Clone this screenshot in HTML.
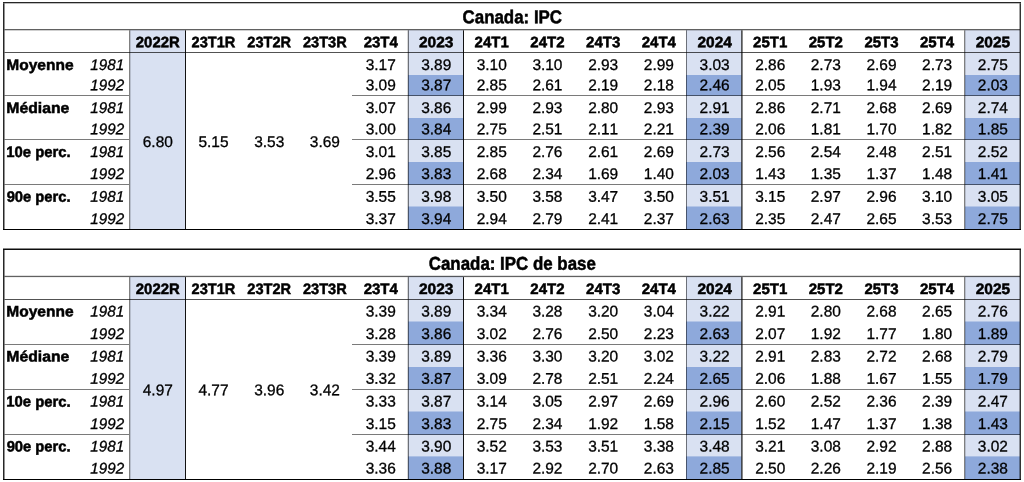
<!DOCTYPE html>
<html><head><meta charset="utf-8"><style>
html,body{margin:0;padding:0;background:#fff;width:1024px;height:482px;overflow:hidden}
svg{display:block;will-change:transform}
text{font-family:"Liberation Sans",sans-serif;fill:#000;font-kerning:none;text-rendering:geometricPrecision}
.r{stroke:#000;stroke-width:0.3px}
g.pr,g.pb,g.pi{fill:#000;stroke:#000}
.b{font-weight:bold;stroke:#000;stroke-width:0.5px}
.i{font-style:italic;stroke:#000;stroke-width:0.3px}
</style></head><body>
<svg width="1024" height="482" viewBox="0 0 1024 482">
<defs></defs>
<rect x="0" y="0" width="1024" height="482" fill="#fff"/>
<rect x="130" y="30" width="55" height="199" fill="#D9E1F2"/>
<rect x="408" y="30" width="55" height="199" fill="#D9E1F2"/>
<rect x="408" y="75" width="55" height="21" fill="#8EA9DB"/>
<rect x="408" y="118" width="55" height="22" fill="#8EA9DB"/>
<rect x="408" y="162" width="55" height="23" fill="#8EA9DB"/>
<rect x="408" y="206.5" width="55" height="23.5" fill="#8EA9DB"/>
<rect x="686" y="30" width="55.5" height="199" fill="#D9E1F2"/>
<rect x="686" y="75" width="55.5" height="21" fill="#8EA9DB"/>
<rect x="686" y="118" width="55.5" height="22" fill="#8EA9DB"/>
<rect x="686" y="162" width="55.5" height="23" fill="#8EA9DB"/>
<rect x="686" y="206.5" width="55.5" height="23.5" fill="#8EA9DB"/>
<rect x="965" y="30" width="55" height="199" fill="#D9E1F2"/>
<rect x="965" y="75" width="55" height="21" fill="#8EA9DB"/>
<rect x="965" y="118" width="55" height="22" fill="#8EA9DB"/>
<rect x="965" y="162" width="55" height="23" fill="#8EA9DB"/>
<rect x="965" y="206.5" width="55" height="23.5" fill="#8EA9DB"/>
<rect x="3" y="2" width="1018" height="1.3" fill="#000" fill-opacity="0.85"/>
<rect x="4.5" y="29" width="1015.5" height="1.3" fill="#000" fill-opacity="0.62"/>
<rect x="4.5" y="52" width="1015.5" height="1" fill="#000" fill-opacity="0.68"/>
<rect x="4.5" y="95" width="124.5" height="1" fill="#000" fill-opacity="0.52"/>
<rect x="352" y="95" width="668" height="1" fill="#000" fill-opacity="0.52"/>
<rect x="4.5" y="139" width="124.5" height="1" fill="#000" fill-opacity="0.52"/>
<rect x="352" y="139" width="668" height="1" fill="#000" fill-opacity="0.52"/>
<rect x="4.5" y="184" width="124.5" height="1" fill="#000" fill-opacity="0.52"/>
<rect x="352" y="184" width="668" height="1" fill="#000" fill-opacity="0.52"/>
<rect x="3" y="229" width="1018" height="1" fill="#000" fill-opacity="1.0"/>
<rect x="3" y="3.3" width="1.5" height="225.7" fill="#000" fill-opacity="0.85"/>
<rect x="1019.55" y="3.3" width="1.45" height="225.7" fill="#000" fill-opacity="0.8"/>
<rect x="129" y="30.3" width="1.3" height="198.7" fill="#000" fill-opacity="0.5"/>
<rect x="407.7" y="30.3" width="1.3" height="198.7" fill="#000" fill-opacity="0.5"/>
<rect x="686" y="30.3" width="1" height="198.7" fill="#000" fill-opacity="0.5"/>
<rect x="964" y="30.3" width="1.3" height="198.7" fill="#000" fill-opacity="0.5"/>
<rect x="185" y="30.3" width="1" height="198.7" fill="#000" fill-opacity="0.93"/>
<rect x="463" y="30.3" width="1" height="198.7" fill="#000" fill-opacity="0.93"/>
<rect x="741.3" y="30.3" width="1.2" height="198.7" fill="#000" fill-opacity="0.93"/>
<text class="b" transform="translate(512.30 23.30) scale(0.9120 1) rotate(0.05)" font-size="18.532" text-anchor="middle">Canada: IPC</text>
<text class="b" transform="translate(157.80 47.20) scale(0.9868 1) rotate(0.05)" font-size="15.113" text-anchor="middle">2022R</text>
<text class="b" transform="translate(213.47 47.20) scale(0.9643 1) rotate(0.05)" font-size="15.113" text-anchor="middle">23T1R</text>
<text class="b" transform="translate(269.23 47.20) scale(0.9643 1) rotate(0.05)" font-size="15.113" text-anchor="middle">23T2R</text>
<text class="b" transform="translate(324.88 47.20) scale(0.9643 1) rotate(0.05)" font-size="15.113" text-anchor="middle">23T3R</text>
<text class="b" transform="translate(380.73 47.20) scale(0.9927 1) rotate(0.05)" font-size="15.113" text-anchor="middle">23T4</text>
<text class="b" transform="translate(436.20 47.20) scale(1.0231 1) rotate(0.05)" font-size="15.113" text-anchor="middle">2023</text>
<text class="b" transform="translate(491.68 47.20) scale(0.9927 1) rotate(0.05)" font-size="15.113" text-anchor="middle">24T1</text>
<text class="b" transform="translate(547.42 47.20) scale(0.9927 1) rotate(0.05)" font-size="15.113" text-anchor="middle">24T2</text>
<text class="b" transform="translate(603.17 47.20) scale(0.9927 1) rotate(0.05)" font-size="15.113" text-anchor="middle">24T3</text>
<text class="b" transform="translate(658.83 47.20) scale(0.9927 1) rotate(0.05)" font-size="15.113" text-anchor="middle">24T4</text>
<text class="b" transform="translate(714.65 47.20) scale(1.0231 1) rotate(0.05)" font-size="15.113" text-anchor="middle">2024</text>
<text class="b" transform="translate(770.20 47.20) scale(0.9927 1) rotate(0.05)" font-size="15.113" text-anchor="middle">25T1</text>
<text class="b" transform="translate(825.80 47.20) scale(0.9927 1) rotate(0.05)" font-size="15.113" text-anchor="middle">25T2</text>
<text class="b" transform="translate(881.47 47.20) scale(0.9927 1) rotate(0.05)" font-size="15.113" text-anchor="middle">25T3</text>
<text class="b" transform="translate(937.12 47.20) scale(0.9927 1) rotate(0.05)" font-size="15.113" text-anchor="middle">25T4</text>
<text class="b" transform="translate(992.90 47.20) scale(1.0231 1) rotate(0.05)" font-size="15.113" text-anchor="middle">2025</text>
<text class="b" transform="translate(6.32 69.89) scale(1.0268 1) rotate(0.05)" font-size="15.116" text-anchor="start">Moyenne</text>
<text class="i" transform="translate(90.26 69.89) scale(0.9892 1) rotate(0.05)" font-size="15.395" text-anchor="start">1981</text>
<text class="i" transform="translate(90.26 90.19) scale(0.9892 1) rotate(0.05)" font-size="15.395" text-anchor="start">1992</text>
<text class="b" transform="translate(6.31 113.00) scale(1.0424 1) rotate(0.05)" font-size="15.116" text-anchor="start">Médiane</text>
<text class="i" transform="translate(90.26 113.00) scale(0.9892 1) rotate(0.05)" font-size="15.395" text-anchor="start">1981</text>
<text class="i" transform="translate(90.26 134.20) scale(0.9892 1) rotate(0.05)" font-size="15.395" text-anchor="start">1992</text>
<text class="b" transform="translate(6.31 156.93) scale(0.9834 1) rotate(0.05)" font-size="15.116" text-anchor="start">10e perc.</text>
<text class="i" transform="translate(90.26 156.93) scale(0.9892 1) rotate(0.05)" font-size="15.395" text-anchor="start">1981</text>
<text class="i" transform="translate(90.26 179.00) scale(0.9892 1) rotate(0.05)" font-size="15.395" text-anchor="start">1992</text>
<text class="b" transform="translate(6.63 201.80) scale(0.9768 1) rotate(0.05)" font-size="15.116" text-anchor="start">90e perc.</text>
<text class="i" transform="translate(90.26 201.80) scale(0.9892 1) rotate(0.05)" font-size="15.395" text-anchor="start">1981</text>
<text class="i" transform="translate(90.26 223.89) scale(0.9892 1) rotate(0.05)" font-size="15.395" text-anchor="start">1992</text>
<text class="r" transform="translate(157.80 147.00) scale(0.9961 1) rotate(0.05)" font-size="15.537" text-anchor="middle">6.80</text>
<text class="r" transform="translate(213.47 147.00) scale(0.9961 1) rotate(0.05)" font-size="15.537" text-anchor="middle">5.15</text>
<text class="r" transform="translate(269.23 147.00) scale(0.9961 1) rotate(0.05)" font-size="15.537" text-anchor="middle">3.53</text>
<text class="r" transform="translate(324.88 147.00) scale(0.9961 1) rotate(0.05)" font-size="15.537" text-anchor="middle">3.69</text>
<text class="r" transform="translate(380.73 69.89) scale(0.9961 1) rotate(0.05)" font-size="15.537" text-anchor="middle">3.17</text>
<text class="r" transform="translate(436.20 69.89) scale(0.9961 1) rotate(0.05)" font-size="15.537" text-anchor="middle">3.89</text>
<text class="r" transform="translate(491.68 69.89) scale(0.9961 1) rotate(0.05)" font-size="15.537" text-anchor="middle">3.10</text>
<text class="r" transform="translate(547.42 69.89) scale(0.9961 1) rotate(0.05)" font-size="15.537" text-anchor="middle">3.10</text>
<text class="r" transform="translate(603.17 69.89) scale(0.9961 1) rotate(0.05)" font-size="15.537" text-anchor="middle">2.93</text>
<text class="r" transform="translate(658.83 69.89) scale(0.9961 1) rotate(0.05)" font-size="15.537" text-anchor="middle">2.99</text>
<text class="r" transform="translate(714.65 69.89) scale(0.9961 1) rotate(0.05)" font-size="15.537" text-anchor="middle">3.03</text>
<text class="r" transform="translate(770.20 69.89) scale(0.9961 1) rotate(0.05)" font-size="15.537" text-anchor="middle">2.86</text>
<text class="r" transform="translate(825.80 69.89) scale(0.9961 1) rotate(0.05)" font-size="15.537" text-anchor="middle">2.73</text>
<text class="r" transform="translate(881.47 69.89) scale(0.9961 1) rotate(0.05)" font-size="15.537" text-anchor="middle">2.69</text>
<text class="r" transform="translate(937.12 69.89) scale(0.9961 1) rotate(0.05)" font-size="15.537" text-anchor="middle">2.73</text>
<text class="r" transform="translate(992.90 69.89) scale(0.9961 1) rotate(0.05)" font-size="15.537" text-anchor="middle">2.75</text>
<text class="r" transform="translate(380.73 90.19) scale(0.9961 1) rotate(0.05)" font-size="15.537" text-anchor="middle">3.09</text>
<text class="r" transform="translate(436.20 90.19) scale(0.9961 1) rotate(0.05)" font-size="15.537" text-anchor="middle">3.87</text>
<text class="r" transform="translate(491.68 90.19) scale(0.9961 1) rotate(0.05)" font-size="15.537" text-anchor="middle">2.85</text>
<text class="r" transform="translate(547.42 90.19) scale(0.9961 1) rotate(0.05)" font-size="15.537" text-anchor="middle">2.61</text>
<text class="r" transform="translate(603.17 90.19) scale(0.9961 1) rotate(0.05)" font-size="15.537" text-anchor="middle">2.19</text>
<text class="r" transform="translate(658.83 90.19) scale(0.9961 1) rotate(0.05)" font-size="15.537" text-anchor="middle">2.18</text>
<text class="r" transform="translate(714.65 90.19) scale(0.9961 1) rotate(0.05)" font-size="15.537" text-anchor="middle">2.46</text>
<text class="r" transform="translate(770.20 90.19) scale(0.9961 1) rotate(0.05)" font-size="15.537" text-anchor="middle">2.05</text>
<text class="r" transform="translate(825.80 90.19) scale(0.9961 1) rotate(0.05)" font-size="15.537" text-anchor="middle">1.93</text>
<text class="r" transform="translate(881.47 90.19) scale(0.9961 1) rotate(0.05)" font-size="15.537" text-anchor="middle">1.94</text>
<text class="r" transform="translate(937.12 90.19) scale(0.9961 1) rotate(0.05)" font-size="15.537" text-anchor="middle">2.19</text>
<text class="r" transform="translate(992.90 90.19) scale(0.9961 1) rotate(0.05)" font-size="15.537" text-anchor="middle">2.03</text>
<text class="r" transform="translate(380.73 113.00) scale(0.9961 1) rotate(0.05)" font-size="15.537" text-anchor="middle">3.07</text>
<text class="r" transform="translate(436.20 113.00) scale(0.9961 1) rotate(0.05)" font-size="15.537" text-anchor="middle">3.86</text>
<text class="r" transform="translate(491.68 113.00) scale(0.9961 1) rotate(0.05)" font-size="15.537" text-anchor="middle">2.99</text>
<text class="r" transform="translate(547.42 113.00) scale(0.9961 1) rotate(0.05)" font-size="15.537" text-anchor="middle">2.93</text>
<text class="r" transform="translate(603.17 113.00) scale(0.9961 1) rotate(0.05)" font-size="15.537" text-anchor="middle">2.80</text>
<text class="r" transform="translate(658.83 113.00) scale(0.9961 1) rotate(0.05)" font-size="15.537" text-anchor="middle">2.93</text>
<text class="r" transform="translate(714.65 113.00) scale(0.9961 1) rotate(0.05)" font-size="15.537" text-anchor="middle">2.91</text>
<text class="r" transform="translate(770.20 113.00) scale(0.9961 1) rotate(0.05)" font-size="15.537" text-anchor="middle">2.86</text>
<text class="r" transform="translate(825.80 113.00) scale(0.9961 1) rotate(0.05)" font-size="15.537" text-anchor="middle">2.71</text>
<text class="r" transform="translate(881.47 113.00) scale(0.9961 1) rotate(0.05)" font-size="15.537" text-anchor="middle">2.68</text>
<text class="r" transform="translate(937.12 113.00) scale(0.9961 1) rotate(0.05)" font-size="15.537" text-anchor="middle">2.69</text>
<text class="r" transform="translate(992.90 113.00) scale(0.9961 1) rotate(0.05)" font-size="15.537" text-anchor="middle">2.74</text>
<text class="r" transform="translate(380.73 134.20) scale(0.9961 1) rotate(0.05)" font-size="15.537" text-anchor="middle">3.00</text>
<text class="r" transform="translate(436.20 134.20) scale(0.9961 1) rotate(0.05)" font-size="15.537" text-anchor="middle">3.84</text>
<text class="r" transform="translate(491.68 134.20) scale(0.9961 1) rotate(0.05)" font-size="15.537" text-anchor="middle">2.75</text>
<text class="r" transform="translate(547.42 134.20) scale(0.9961 1) rotate(0.05)" font-size="15.537" text-anchor="middle">2.51</text>
<text class="r" transform="translate(603.17 134.20) scale(0.9961 1) rotate(0.05)" font-size="15.537" text-anchor="middle">2.11</text>
<text class="r" transform="translate(658.83 134.20) scale(0.9961 1) rotate(0.05)" font-size="15.537" text-anchor="middle">2.21</text>
<text class="r" transform="translate(714.65 134.20) scale(0.9961 1) rotate(0.05)" font-size="15.537" text-anchor="middle">2.39</text>
<text class="r" transform="translate(770.20 134.20) scale(0.9961 1) rotate(0.05)" font-size="15.537" text-anchor="middle">2.06</text>
<text class="r" transform="translate(825.80 134.20) scale(0.9961 1) rotate(0.05)" font-size="15.537" text-anchor="middle">1.81</text>
<text class="r" transform="translate(881.47 134.20) scale(0.9961 1) rotate(0.05)" font-size="15.537" text-anchor="middle">1.70</text>
<text class="r" transform="translate(937.12 134.20) scale(0.9961 1) rotate(0.05)" font-size="15.537" text-anchor="middle">1.82</text>
<text class="r" transform="translate(992.90 134.20) scale(0.9961 1) rotate(0.05)" font-size="15.537" text-anchor="middle">1.85</text>
<text class="r" transform="translate(380.73 156.93) scale(0.9961 1) rotate(0.05)" font-size="15.537" text-anchor="middle">3.01</text>
<text class="r" transform="translate(436.20 156.93) scale(0.9961 1) rotate(0.05)" font-size="15.537" text-anchor="middle">3.85</text>
<text class="r" transform="translate(491.68 156.93) scale(0.9961 1) rotate(0.05)" font-size="15.537" text-anchor="middle">2.85</text>
<text class="r" transform="translate(547.42 156.93) scale(0.9961 1) rotate(0.05)" font-size="15.537" text-anchor="middle">2.76</text>
<text class="r" transform="translate(603.17 156.93) scale(0.9961 1) rotate(0.05)" font-size="15.537" text-anchor="middle">2.61</text>
<text class="r" transform="translate(658.83 156.93) scale(0.9961 1) rotate(0.05)" font-size="15.537" text-anchor="middle">2.69</text>
<text class="r" transform="translate(714.65 156.93) scale(0.9961 1) rotate(0.05)" font-size="15.537" text-anchor="middle">2.73</text>
<text class="r" transform="translate(770.20 156.93) scale(0.9961 1) rotate(0.05)" font-size="15.537" text-anchor="middle">2.56</text>
<text class="r" transform="translate(825.80 156.93) scale(0.9961 1) rotate(0.05)" font-size="15.537" text-anchor="middle">2.54</text>
<text class="r" transform="translate(881.47 156.93) scale(0.9961 1) rotate(0.05)" font-size="15.537" text-anchor="middle">2.48</text>
<text class="r" transform="translate(937.12 156.93) scale(0.9961 1) rotate(0.05)" font-size="15.537" text-anchor="middle">2.51</text>
<text class="r" transform="translate(992.90 156.93) scale(0.9961 1) rotate(0.05)" font-size="15.537" text-anchor="middle">2.52</text>
<text class="r" transform="translate(380.73 179.00) scale(0.9961 1) rotate(0.05)" font-size="15.537" text-anchor="middle">2.96</text>
<text class="r" transform="translate(436.20 179.00) scale(0.9961 1) rotate(0.05)" font-size="15.537" text-anchor="middle">3.83</text>
<text class="r" transform="translate(491.68 179.00) scale(0.9961 1) rotate(0.05)" font-size="15.537" text-anchor="middle">2.68</text>
<text class="r" transform="translate(547.42 179.00) scale(0.9961 1) rotate(0.05)" font-size="15.537" text-anchor="middle">2.34</text>
<text class="r" transform="translate(603.17 179.00) scale(0.9961 1) rotate(0.05)" font-size="15.537" text-anchor="middle">1.69</text>
<text class="r" transform="translate(658.83 179.00) scale(0.9961 1) rotate(0.05)" font-size="15.537" text-anchor="middle">1.40</text>
<text class="r" transform="translate(714.65 179.00) scale(0.9961 1) rotate(0.05)" font-size="15.537" text-anchor="middle">2.03</text>
<text class="r" transform="translate(770.20 179.00) scale(0.9961 1) rotate(0.05)" font-size="15.537" text-anchor="middle">1.43</text>
<text class="r" transform="translate(825.80 179.00) scale(0.9961 1) rotate(0.05)" font-size="15.537" text-anchor="middle">1.35</text>
<text class="r" transform="translate(881.47 179.00) scale(0.9961 1) rotate(0.05)" font-size="15.537" text-anchor="middle">1.37</text>
<text class="r" transform="translate(937.12 179.00) scale(0.9961 1) rotate(0.05)" font-size="15.537" text-anchor="middle">1.48</text>
<text class="r" transform="translate(992.90 179.00) scale(0.9961 1) rotate(0.05)" font-size="15.537" text-anchor="middle">1.41</text>
<text class="r" transform="translate(380.73 201.80) scale(0.9961 1) rotate(0.05)" font-size="15.537" text-anchor="middle">3.55</text>
<text class="r" transform="translate(436.20 201.80) scale(0.9961 1) rotate(0.05)" font-size="15.537" text-anchor="middle">3.98</text>
<text class="r" transform="translate(491.68 201.80) scale(0.9961 1) rotate(0.05)" font-size="15.537" text-anchor="middle">3.50</text>
<text class="r" transform="translate(547.42 201.80) scale(0.9961 1) rotate(0.05)" font-size="15.537" text-anchor="middle">3.58</text>
<text class="r" transform="translate(603.17 201.80) scale(0.9961 1) rotate(0.05)" font-size="15.537" text-anchor="middle">3.47</text>
<text class="r" transform="translate(658.83 201.80) scale(0.9961 1) rotate(0.05)" font-size="15.537" text-anchor="middle">3.50</text>
<text class="r" transform="translate(714.65 201.80) scale(0.9961 1) rotate(0.05)" font-size="15.537" text-anchor="middle">3.51</text>
<text class="r" transform="translate(770.20 201.80) scale(0.9961 1) rotate(0.05)" font-size="15.537" text-anchor="middle">3.15</text>
<text class="r" transform="translate(825.80 201.80) scale(0.9961 1) rotate(0.05)" font-size="15.537" text-anchor="middle">2.97</text>
<text class="r" transform="translate(881.47 201.80) scale(0.9961 1) rotate(0.05)" font-size="15.537" text-anchor="middle">2.96</text>
<text class="r" transform="translate(937.12 201.80) scale(0.9961 1) rotate(0.05)" font-size="15.537" text-anchor="middle">3.10</text>
<text class="r" transform="translate(992.90 201.80) scale(0.9961 1) rotate(0.05)" font-size="15.537" text-anchor="middle">3.05</text>
<text class="r" transform="translate(380.73 223.89) scale(0.9961 1) rotate(0.05)" font-size="15.537" text-anchor="middle">3.37</text>
<text class="r" transform="translate(436.20 223.89) scale(0.9961 1) rotate(0.05)" font-size="15.537" text-anchor="middle">3.94</text>
<text class="r" transform="translate(491.68 223.89) scale(0.9961 1) rotate(0.05)" font-size="15.537" text-anchor="middle">2.94</text>
<text class="r" transform="translate(547.42 223.89) scale(0.9961 1) rotate(0.05)" font-size="15.537" text-anchor="middle">2.79</text>
<text class="r" transform="translate(603.17 223.89) scale(0.9961 1) rotate(0.05)" font-size="15.537" text-anchor="middle">2.41</text>
<text class="r" transform="translate(658.83 223.89) scale(0.9961 1) rotate(0.05)" font-size="15.537" text-anchor="middle">2.37</text>
<text class="r" transform="translate(714.65 223.89) scale(0.9961 1) rotate(0.05)" font-size="15.537" text-anchor="middle">2.63</text>
<text class="r" transform="translate(770.20 223.89) scale(0.9961 1) rotate(0.05)" font-size="15.537" text-anchor="middle">2.35</text>
<text class="r" transform="translate(825.80 223.89) scale(0.9961 1) rotate(0.05)" font-size="15.537" text-anchor="middle">2.47</text>
<text class="r" transform="translate(881.47 223.89) scale(0.9961 1) rotate(0.05)" font-size="15.537" text-anchor="middle">2.65</text>
<text class="r" transform="translate(937.12 223.89) scale(0.9961 1) rotate(0.05)" font-size="15.537" text-anchor="middle">3.53</text>
<text class="r" transform="translate(992.90 223.89) scale(0.9961 1) rotate(0.05)" font-size="15.537" text-anchor="middle">2.75</text>
<rect x="130" y="276" width="55" height="203" fill="#D9E1F2"/>
<rect x="408" y="276" width="55" height="203" fill="#D9E1F2"/>
<rect x="408" y="321.5" width="55" height="23.5" fill="#8EA9DB"/>
<rect x="408" y="367" width="55" height="23" fill="#8EA9DB"/>
<rect x="408" y="411.5" width="55" height="23.5" fill="#8EA9DB"/>
<rect x="408" y="456.4" width="55" height="23.6" fill="#8EA9DB"/>
<rect x="686" y="276" width="55.5" height="203" fill="#D9E1F2"/>
<rect x="686" y="321.5" width="55.5" height="23.5" fill="#8EA9DB"/>
<rect x="686" y="367" width="55.5" height="23" fill="#8EA9DB"/>
<rect x="686" y="411.5" width="55.5" height="23.5" fill="#8EA9DB"/>
<rect x="686" y="456.4" width="55.5" height="23.6" fill="#8EA9DB"/>
<rect x="965" y="276" width="55" height="203" fill="#D9E1F2"/>
<rect x="965" y="321.5" width="55" height="23.5" fill="#8EA9DB"/>
<rect x="965" y="367" width="55" height="23" fill="#8EA9DB"/>
<rect x="965" y="411.5" width="55" height="23.5" fill="#8EA9DB"/>
<rect x="965" y="456.4" width="55" height="23.6" fill="#8EA9DB"/>
<rect x="3" y="248.5" width="1018" height="1.5" fill="#000" fill-opacity="0.95"/>
<rect x="4.5" y="275.8" width="1015.5" height="1.3" fill="#000" fill-opacity="0.62"/>
<rect x="4.5" y="299" width="1015.5" height="1" fill="#000" fill-opacity="0.68"/>
<rect x="4.5" y="344" width="124.5" height="1" fill="#000" fill-opacity="0.52"/>
<rect x="352" y="344" width="668" height="1" fill="#000" fill-opacity="0.52"/>
<rect x="4.5" y="389" width="124.5" height="1" fill="#000" fill-opacity="0.52"/>
<rect x="352" y="389" width="668" height="1" fill="#000" fill-opacity="0.52"/>
<rect x="4.5" y="434" width="124.5" height="1" fill="#000" fill-opacity="0.52"/>
<rect x="352" y="434" width="668" height="1" fill="#000" fill-opacity="0.52"/>
<rect x="3" y="479" width="1018" height="1" fill="#000" fill-opacity="1.0"/>
<rect x="3" y="250" width="1.5" height="229" fill="#000" fill-opacity="0.85"/>
<rect x="1019.55" y="250" width="1.45" height="229" fill="#000" fill-opacity="0.8"/>
<rect x="129" y="277.1" width="1.3" height="201.9" fill="#000" fill-opacity="0.5"/>
<rect x="407.7" y="277.1" width="1.3" height="201.9" fill="#000" fill-opacity="0.5"/>
<rect x="686" y="277.1" width="1" height="201.9" fill="#000" fill-opacity="0.5"/>
<rect x="964" y="277.1" width="1.3" height="201.9" fill="#000" fill-opacity="0.5"/>
<rect x="185" y="277.1" width="1" height="201.9" fill="#000" fill-opacity="0.93"/>
<rect x="463" y="277.1" width="1" height="201.9" fill="#000" fill-opacity="0.93"/>
<rect x="741.3" y="277.1" width="1.2" height="201.9" fill="#000" fill-opacity="0.93"/>
<text class="b" transform="translate(512.30 269.75) scale(0.9120 1) rotate(0.05)" font-size="18.532" text-anchor="middle">Canada: IPC de base</text>
<text class="b" transform="translate(157.80 294.00) scale(0.9868 1) rotate(0.05)" font-size="15.113" text-anchor="middle">2022R</text>
<text class="b" transform="translate(213.47 294.00) scale(0.9643 1) rotate(0.05)" font-size="15.113" text-anchor="middle">23T1R</text>
<text class="b" transform="translate(269.23 294.00) scale(0.9643 1) rotate(0.05)" font-size="15.113" text-anchor="middle">23T2R</text>
<text class="b" transform="translate(324.88 294.00) scale(0.9643 1) rotate(0.05)" font-size="15.113" text-anchor="middle">23T3R</text>
<text class="b" transform="translate(380.73 294.00) scale(0.9927 1) rotate(0.05)" font-size="15.113" text-anchor="middle">23T4</text>
<text class="b" transform="translate(436.20 294.00) scale(1.0231 1) rotate(0.05)" font-size="15.113" text-anchor="middle">2023</text>
<text class="b" transform="translate(491.68 294.00) scale(0.9927 1) rotate(0.05)" font-size="15.113" text-anchor="middle">24T1</text>
<text class="b" transform="translate(547.42 294.00) scale(0.9927 1) rotate(0.05)" font-size="15.113" text-anchor="middle">24T2</text>
<text class="b" transform="translate(603.17 294.00) scale(0.9927 1) rotate(0.05)" font-size="15.113" text-anchor="middle">24T3</text>
<text class="b" transform="translate(658.83 294.00) scale(0.9927 1) rotate(0.05)" font-size="15.113" text-anchor="middle">24T4</text>
<text class="b" transform="translate(714.65 294.00) scale(1.0231 1) rotate(0.05)" font-size="15.113" text-anchor="middle">2024</text>
<text class="b" transform="translate(770.20 294.00) scale(0.9927 1) rotate(0.05)" font-size="15.113" text-anchor="middle">25T1</text>
<text class="b" transform="translate(825.80 294.00) scale(0.9927 1) rotate(0.05)" font-size="15.113" text-anchor="middle">25T2</text>
<text class="b" transform="translate(881.47 294.00) scale(0.9927 1) rotate(0.05)" font-size="15.113" text-anchor="middle">25T3</text>
<text class="b" transform="translate(937.12 294.00) scale(0.9927 1) rotate(0.05)" font-size="15.113" text-anchor="middle">25T4</text>
<text class="b" transform="translate(992.90 294.00) scale(1.0231 1) rotate(0.05)" font-size="15.113" text-anchor="middle">2025</text>
<text class="b" transform="translate(6.32 316.56) scale(1.0268 1) rotate(0.05)" font-size="15.116" text-anchor="start">Moyenne</text>
<text class="i" transform="translate(90.26 316.56) scale(0.9892 1) rotate(0.05)" font-size="15.395" text-anchor="start">1981</text>
<text class="i" transform="translate(90.26 339.00) scale(0.9892 1) rotate(0.05)" font-size="15.395" text-anchor="start">1992</text>
<text class="b" transform="translate(6.31 361.52) scale(1.0424 1) rotate(0.05)" font-size="15.116" text-anchor="start">Médiane</text>
<text class="i" transform="translate(90.26 361.52) scale(0.9892 1) rotate(0.05)" font-size="15.395" text-anchor="start">1981</text>
<text class="i" transform="translate(90.26 383.80) scale(0.9892 1) rotate(0.05)" font-size="15.395" text-anchor="start">1992</text>
<text class="b" transform="translate(6.31 406.60) scale(0.9834 1) rotate(0.05)" font-size="15.116" text-anchor="start">10e perc.</text>
<text class="i" transform="translate(90.26 406.60) scale(0.9892 1) rotate(0.05)" font-size="15.395" text-anchor="start">1981</text>
<text class="i" transform="translate(90.26 428.93) scale(0.9892 1) rotate(0.05)" font-size="15.395" text-anchor="start">1992</text>
<text class="b" transform="translate(6.63 451.49) scale(0.9768 1) rotate(0.05)" font-size="15.116" text-anchor="start">90e perc.</text>
<text class="i" transform="translate(90.26 451.49) scale(0.9892 1) rotate(0.05)" font-size="15.395" text-anchor="start">1981</text>
<text class="i" transform="translate(90.26 473.50) scale(0.9892 1) rotate(0.05)" font-size="15.395" text-anchor="start">1992</text>
<text class="r" transform="translate(157.80 395.20) scale(0.9961 1) rotate(0.05)" font-size="15.537" text-anchor="middle">4.97</text>
<text class="r" transform="translate(213.47 395.20) scale(0.9961 1) rotate(0.05)" font-size="15.537" text-anchor="middle">4.77</text>
<text class="r" transform="translate(269.23 395.20) scale(0.9961 1) rotate(0.05)" font-size="15.537" text-anchor="middle">3.96</text>
<text class="r" transform="translate(324.88 395.20) scale(0.9961 1) rotate(0.05)" font-size="15.537" text-anchor="middle">3.42</text>
<text class="r" transform="translate(380.73 316.56) scale(0.9961 1) rotate(0.05)" font-size="15.537" text-anchor="middle">3.39</text>
<text class="r" transform="translate(436.20 316.56) scale(0.9961 1) rotate(0.05)" font-size="15.537" text-anchor="middle">3.89</text>
<text class="r" transform="translate(491.68 316.56) scale(0.9961 1) rotate(0.05)" font-size="15.537" text-anchor="middle">3.34</text>
<text class="r" transform="translate(547.42 316.56) scale(0.9961 1) rotate(0.05)" font-size="15.537" text-anchor="middle">3.28</text>
<text class="r" transform="translate(603.17 316.56) scale(0.9961 1) rotate(0.05)" font-size="15.537" text-anchor="middle">3.20</text>
<text class="r" transform="translate(658.83 316.56) scale(0.9961 1) rotate(0.05)" font-size="15.537" text-anchor="middle">3.04</text>
<text class="r" transform="translate(714.65 316.56) scale(0.9961 1) rotate(0.05)" font-size="15.537" text-anchor="middle">3.22</text>
<text class="r" transform="translate(770.20 316.56) scale(0.9961 1) rotate(0.05)" font-size="15.537" text-anchor="middle">2.91</text>
<text class="r" transform="translate(825.80 316.56) scale(0.9961 1) rotate(0.05)" font-size="15.537" text-anchor="middle">2.80</text>
<text class="r" transform="translate(881.47 316.56) scale(0.9961 1) rotate(0.05)" font-size="15.537" text-anchor="middle">2.68</text>
<text class="r" transform="translate(937.12 316.56) scale(0.9961 1) rotate(0.05)" font-size="15.537" text-anchor="middle">2.65</text>
<text class="r" transform="translate(992.90 316.56) scale(0.9961 1) rotate(0.05)" font-size="15.537" text-anchor="middle">2.76</text>
<text class="r" transform="translate(380.73 339.00) scale(0.9961 1) rotate(0.05)" font-size="15.537" text-anchor="middle">3.28</text>
<text class="r" transform="translate(436.20 339.00) scale(0.9961 1) rotate(0.05)" font-size="15.537" text-anchor="middle">3.86</text>
<text class="r" transform="translate(491.68 339.00) scale(0.9961 1) rotate(0.05)" font-size="15.537" text-anchor="middle">3.02</text>
<text class="r" transform="translate(547.42 339.00) scale(0.9961 1) rotate(0.05)" font-size="15.537" text-anchor="middle">2.76</text>
<text class="r" transform="translate(603.17 339.00) scale(0.9961 1) rotate(0.05)" font-size="15.537" text-anchor="middle">2.50</text>
<text class="r" transform="translate(658.83 339.00) scale(0.9961 1) rotate(0.05)" font-size="15.537" text-anchor="middle">2.23</text>
<text class="r" transform="translate(714.65 339.00) scale(0.9961 1) rotate(0.05)" font-size="15.537" text-anchor="middle">2.63</text>
<text class="r" transform="translate(770.20 339.00) scale(0.9961 1) rotate(0.05)" font-size="15.537" text-anchor="middle">2.07</text>
<text class="r" transform="translate(825.80 339.00) scale(0.9961 1) rotate(0.05)" font-size="15.537" text-anchor="middle">1.92</text>
<text class="r" transform="translate(881.47 339.00) scale(0.9961 1) rotate(0.05)" font-size="15.537" text-anchor="middle">1.77</text>
<text class="r" transform="translate(937.12 339.00) scale(0.9961 1) rotate(0.05)" font-size="15.537" text-anchor="middle">1.80</text>
<text class="r" transform="translate(992.90 339.00) scale(0.9961 1) rotate(0.05)" font-size="15.537" text-anchor="middle">1.89</text>
<text class="r" transform="translate(380.73 361.52) scale(0.9961 1) rotate(0.05)" font-size="15.537" text-anchor="middle">3.39</text>
<text class="r" transform="translate(436.20 361.52) scale(0.9961 1) rotate(0.05)" font-size="15.537" text-anchor="middle">3.89</text>
<text class="r" transform="translate(491.68 361.52) scale(0.9961 1) rotate(0.05)" font-size="15.537" text-anchor="middle">3.36</text>
<text class="r" transform="translate(547.42 361.52) scale(0.9961 1) rotate(0.05)" font-size="15.537" text-anchor="middle">3.30</text>
<text class="r" transform="translate(603.17 361.52) scale(0.9961 1) rotate(0.05)" font-size="15.537" text-anchor="middle">3.20</text>
<text class="r" transform="translate(658.83 361.52) scale(0.9961 1) rotate(0.05)" font-size="15.537" text-anchor="middle">3.02</text>
<text class="r" transform="translate(714.65 361.52) scale(0.9961 1) rotate(0.05)" font-size="15.537" text-anchor="middle">3.22</text>
<text class="r" transform="translate(770.20 361.52) scale(0.9961 1) rotate(0.05)" font-size="15.537" text-anchor="middle">2.91</text>
<text class="r" transform="translate(825.80 361.52) scale(0.9961 1) rotate(0.05)" font-size="15.537" text-anchor="middle">2.83</text>
<text class="r" transform="translate(881.47 361.52) scale(0.9961 1) rotate(0.05)" font-size="15.537" text-anchor="middle">2.72</text>
<text class="r" transform="translate(937.12 361.52) scale(0.9961 1) rotate(0.05)" font-size="15.537" text-anchor="middle">2.68</text>
<text class="r" transform="translate(992.90 361.52) scale(0.9961 1) rotate(0.05)" font-size="15.537" text-anchor="middle">2.79</text>
<text class="r" transform="translate(380.73 383.80) scale(0.9961 1) rotate(0.05)" font-size="15.537" text-anchor="middle">3.32</text>
<text class="r" transform="translate(436.20 383.80) scale(0.9961 1) rotate(0.05)" font-size="15.537" text-anchor="middle">3.87</text>
<text class="r" transform="translate(491.68 383.80) scale(0.9961 1) rotate(0.05)" font-size="15.537" text-anchor="middle">3.09</text>
<text class="r" transform="translate(547.42 383.80) scale(0.9961 1) rotate(0.05)" font-size="15.537" text-anchor="middle">2.78</text>
<text class="r" transform="translate(603.17 383.80) scale(0.9961 1) rotate(0.05)" font-size="15.537" text-anchor="middle">2.51</text>
<text class="r" transform="translate(658.83 383.80) scale(0.9961 1) rotate(0.05)" font-size="15.537" text-anchor="middle">2.24</text>
<text class="r" transform="translate(714.65 383.80) scale(0.9961 1) rotate(0.05)" font-size="15.537" text-anchor="middle">2.65</text>
<text class="r" transform="translate(770.20 383.80) scale(0.9961 1) rotate(0.05)" font-size="15.537" text-anchor="middle">2.06</text>
<text class="r" transform="translate(825.80 383.80) scale(0.9961 1) rotate(0.05)" font-size="15.537" text-anchor="middle">1.88</text>
<text class="r" transform="translate(881.47 383.80) scale(0.9961 1) rotate(0.05)" font-size="15.537" text-anchor="middle">1.67</text>
<text class="r" transform="translate(937.12 383.80) scale(0.9961 1) rotate(0.05)" font-size="15.537" text-anchor="middle">1.55</text>
<text class="r" transform="translate(992.90 383.80) scale(0.9961 1) rotate(0.05)" font-size="15.537" text-anchor="middle">1.79</text>
<text class="r" transform="translate(380.73 406.60) scale(0.9961 1) rotate(0.05)" font-size="15.537" text-anchor="middle">3.33</text>
<text class="r" transform="translate(436.20 406.60) scale(0.9961 1) rotate(0.05)" font-size="15.537" text-anchor="middle">3.87</text>
<text class="r" transform="translate(491.68 406.60) scale(0.9961 1) rotate(0.05)" font-size="15.537" text-anchor="middle">3.14</text>
<text class="r" transform="translate(547.42 406.60) scale(0.9961 1) rotate(0.05)" font-size="15.537" text-anchor="middle">3.05</text>
<text class="r" transform="translate(603.17 406.60) scale(0.9961 1) rotate(0.05)" font-size="15.537" text-anchor="middle">2.97</text>
<text class="r" transform="translate(658.83 406.60) scale(0.9961 1) rotate(0.05)" font-size="15.537" text-anchor="middle">2.69</text>
<text class="r" transform="translate(714.65 406.60) scale(0.9961 1) rotate(0.05)" font-size="15.537" text-anchor="middle">2.96</text>
<text class="r" transform="translate(770.20 406.60) scale(0.9961 1) rotate(0.05)" font-size="15.537" text-anchor="middle">2.60</text>
<text class="r" transform="translate(825.80 406.60) scale(0.9961 1) rotate(0.05)" font-size="15.537" text-anchor="middle">2.52</text>
<text class="r" transform="translate(881.47 406.60) scale(0.9961 1) rotate(0.05)" font-size="15.537" text-anchor="middle">2.36</text>
<text class="r" transform="translate(937.12 406.60) scale(0.9961 1) rotate(0.05)" font-size="15.537" text-anchor="middle">2.39</text>
<text class="r" transform="translate(992.90 406.60) scale(0.9961 1) rotate(0.05)" font-size="15.537" text-anchor="middle">2.47</text>
<text class="r" transform="translate(380.73 428.93) scale(0.9961 1) rotate(0.05)" font-size="15.537" text-anchor="middle">3.15</text>
<text class="r" transform="translate(436.20 428.93) scale(0.9961 1) rotate(0.05)" font-size="15.537" text-anchor="middle">3.83</text>
<text class="r" transform="translate(491.68 428.93) scale(0.9961 1) rotate(0.05)" font-size="15.537" text-anchor="middle">2.75</text>
<text class="r" transform="translate(547.42 428.93) scale(0.9961 1) rotate(0.05)" font-size="15.537" text-anchor="middle">2.34</text>
<text class="r" transform="translate(603.17 428.93) scale(0.9961 1) rotate(0.05)" font-size="15.537" text-anchor="middle">1.92</text>
<text class="r" transform="translate(658.83 428.93) scale(0.9961 1) rotate(0.05)" font-size="15.537" text-anchor="middle">1.58</text>
<text class="r" transform="translate(714.65 428.93) scale(0.9961 1) rotate(0.05)" font-size="15.537" text-anchor="middle">2.15</text>
<text class="r" transform="translate(770.20 428.93) scale(0.9961 1) rotate(0.05)" font-size="15.537" text-anchor="middle">1.52</text>
<text class="r" transform="translate(825.80 428.93) scale(0.9961 1) rotate(0.05)" font-size="15.537" text-anchor="middle">1.47</text>
<text class="r" transform="translate(881.47 428.93) scale(0.9961 1) rotate(0.05)" font-size="15.537" text-anchor="middle">1.37</text>
<text class="r" transform="translate(937.12 428.93) scale(0.9961 1) rotate(0.05)" font-size="15.537" text-anchor="middle">1.38</text>
<text class="r" transform="translate(992.90 428.93) scale(0.9961 1) rotate(0.05)" font-size="15.537" text-anchor="middle">1.43</text>
<text class="r" transform="translate(380.73 451.49) scale(0.9961 1) rotate(0.05)" font-size="15.537" text-anchor="middle">3.44</text>
<text class="r" transform="translate(436.20 451.49) scale(0.9961 1) rotate(0.05)" font-size="15.537" text-anchor="middle">3.90</text>
<text class="r" transform="translate(491.68 451.49) scale(0.9961 1) rotate(0.05)" font-size="15.537" text-anchor="middle">3.52</text>
<text class="r" transform="translate(547.42 451.49) scale(0.9961 1) rotate(0.05)" font-size="15.537" text-anchor="middle">3.53</text>
<text class="r" transform="translate(603.17 451.49) scale(0.9961 1) rotate(0.05)" font-size="15.537" text-anchor="middle">3.51</text>
<text class="r" transform="translate(658.83 451.49) scale(0.9961 1) rotate(0.05)" font-size="15.537" text-anchor="middle">3.38</text>
<text class="r" transform="translate(714.65 451.49) scale(0.9961 1) rotate(0.05)" font-size="15.537" text-anchor="middle">3.48</text>
<text class="r" transform="translate(770.20 451.49) scale(0.9961 1) rotate(0.05)" font-size="15.537" text-anchor="middle">3.21</text>
<text class="r" transform="translate(825.80 451.49) scale(0.9961 1) rotate(0.05)" font-size="15.537" text-anchor="middle">3.08</text>
<text class="r" transform="translate(881.47 451.49) scale(0.9961 1) rotate(0.05)" font-size="15.537" text-anchor="middle">2.92</text>
<text class="r" transform="translate(937.12 451.49) scale(0.9961 1) rotate(0.05)" font-size="15.537" text-anchor="middle">2.88</text>
<text class="r" transform="translate(992.90 451.49) scale(0.9961 1) rotate(0.05)" font-size="15.537" text-anchor="middle">3.02</text>
<text class="r" transform="translate(380.73 473.50) scale(0.9961 1) rotate(0.05)" font-size="15.537" text-anchor="middle">3.36</text>
<text class="r" transform="translate(436.20 473.50) scale(0.9961 1) rotate(0.05)" font-size="15.537" text-anchor="middle">3.88</text>
<text class="r" transform="translate(491.68 473.50) scale(0.9961 1) rotate(0.05)" font-size="15.537" text-anchor="middle">3.17</text>
<text class="r" transform="translate(547.42 473.50) scale(0.9961 1) rotate(0.05)" font-size="15.537" text-anchor="middle">2.92</text>
<text class="r" transform="translate(603.17 473.50) scale(0.9961 1) rotate(0.05)" font-size="15.537" text-anchor="middle">2.70</text>
<text class="r" transform="translate(658.83 473.50) scale(0.9961 1) rotate(0.05)" font-size="15.537" text-anchor="middle">2.63</text>
<text class="r" transform="translate(714.65 473.50) scale(0.9961 1) rotate(0.05)" font-size="15.537" text-anchor="middle">2.85</text>
<text class="r" transform="translate(770.20 473.50) scale(0.9961 1) rotate(0.05)" font-size="15.537" text-anchor="middle">2.50</text>
<text class="r" transform="translate(825.80 473.50) scale(0.9961 1) rotate(0.05)" font-size="15.537" text-anchor="middle">2.26</text>
<text class="r" transform="translate(881.47 473.50) scale(0.9961 1) rotate(0.05)" font-size="15.537" text-anchor="middle">2.19</text>
<text class="r" transform="translate(937.12 473.50) scale(0.9961 1) rotate(0.05)" font-size="15.537" text-anchor="middle">2.56</text>
<text class="r" transform="translate(992.90 473.50) scale(0.9961 1) rotate(0.05)" font-size="15.537" text-anchor="middle">2.38</text>
</svg>
</body></html>
